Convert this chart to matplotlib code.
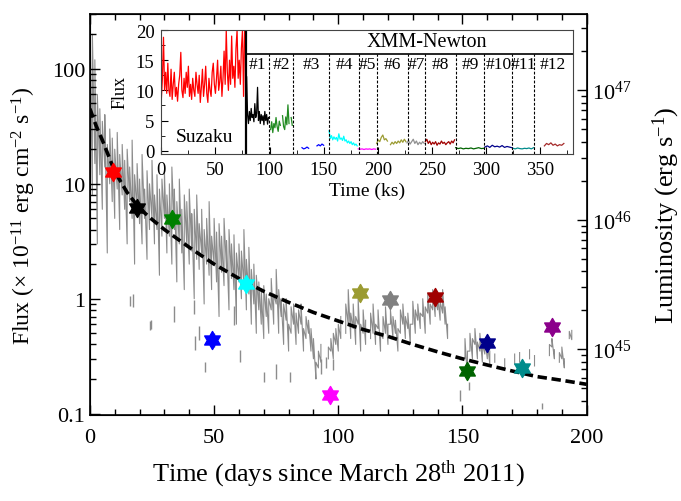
import numpy as np
import matplotlib
matplotlib.use('Agg')
import matplotlib.pyplot as plt
from matplotlib.path import Path
from matplotlib.ticker import MultipleLocator, LogLocator, NullFormatter

plt.rcParams['font.family'] = 'Liberation Serif'
plt.rcParams['mathtext.fontset'] = 'custom'
plt.rcParams['mathtext.rm'] = 'Liberation Serif'
plt.rcParams['mathtext.it'] = 'Liberation Serif:italic'
plt.rcParams['mathtext.bf'] = 'Liberation Serif:bold'

# ---- main panel: daily light curve (low / high value per day, None = no data)
lc_day = np.arange(0, 196)
lc_lo = [30, 8, 15, 3, 12, 6, 14, 2.5, 10, 7,
         5, 9, 4, 8, 6, 3, 7, 5, 2, 6,
         4.5, 3, 5, 2.2, 4, 5, 3, 4, 1.6, 3.5,
         5, 2.5, 3.5, 2, 4, 1.4, 3, 2.5, 1.2, 3,
         2, 2.6, 1, 2.2, 1.8, 2.5, 0.9, 2, 1.6, 1.2,
         2, 1.4, 0.7, 1.7, 1.3, 1.8, 0.8, 1.5, 1.2, 0.6,
         1.4, 1.0, 1.3, 0.8, 1.1, 0.6, 0.9, 0.5, 0.8, 0.6,
         0.45, 0.7, 0.5, 0.8, 0.6, 0.9, 0.5, 0.7, 0.4, 0.65,
         0.35, 0.5, 0.6, 0.4, 0.5, 0.6, 0.35, 0.45, 0.5, 0.35,
         0.3, 0.2, 0.25, 0.28, None, None, 0.3, 0.35, 0.3, 0.4,
         0.35, 0.45, None, 0.5, 0.6, 0.45, 0.55, 0.4, 0.6, 0.35,
         0.5, 0.4, None, 0.45, 0.5, 0.4, 0.55, 0.35, 0.45, 0.5,
         0.4, 0.6, 0.45, 0.5, 0.35, 0.5, 0.6, 0.45, 0.55, 0.4,
         0.6, 0.5, 0.65, 0.55, 0.7, 0.5, 0.75, 0.6, 0.8, 0.7,
         0.8, 0.65, 0.75, 0.6, 0.45, None, None, None, None, None,
         None, 0.3, 0.2, 0.35, 0.3, 0.4, 0.3, 0.35, 0.28, 0.33,
         0.3, 0.27, None, 0.28, None, None, None, 0.25, None, None,
         None, 0.27, None, 0.28, None, None, None, 0.3, None, 0.26,
         None, None, None, None, None, 0.32, 0.38, 0.3, None, 0.28,
         0.3, 0.25, None, 0.45, 0.44, None]
lc_hi = [300, 200, 120, 60, 45, 35, 40, 22, 30, 25,
         20, 28, 18, 22, 16, 20, 14, 24, 12, 15,
         11, 18, 9, 13, 10, 16, 8, 12, 9, 11,
         13, 8, 10, 14, 9, 7, 11, 6, 8, 7,
         9, 5.5, 6, 8, 4.5, 6, 4, 5, 7, 3.5,
         5, 3.8, 4.5, 3.5, 5, 3.2, 4, 3, 3.6, 2.5,
         3, 2.6, 4, 2.2, 2.8, 1.8, 2, 1.6, 1.4, 1.2,
         1.3, 1.1, 1.0, 1.5, 1.1, 1.8, 1.2, 1.0, 0.9, 1.0,
         0.6, 0.85, 0.9, 0.75, 0.8, 0.9, 0.55, 0.7, 0.65, 0.55,
         0.45, 0.28, 0.35, 0.4, None, None, 0.38, 0.45, 0.5, 0.55,
         0.6, 0.7, None, 0.9, 1.2, 0.75, 0.9, 0.7, 1.0, 0.6,
         0.8, 0.65, None, 0.75, 0.9, 0.6, 0.8, 0.5, 0.7, 0.85,
         0.6, 0.8, 0.7, 0.65, 0.55, 0.8, 0.9, 0.7, 0.75, 0.6,
         0.95, 0.8, 0.9, 0.75, 1.0, 0.85, 1.1, 0.9, 1.2, 1.0,
         1.1, 0.95, 1.2, 0.85, 0.6, None, None, None, None, None,
         None, 0.45, 0.35, 0.5, 0.45, 0.55, 0.42, 0.5, 0.4, 0.45,
         0.42, 0.35, None, 0.33, None, None, None, 0.3, None, None,
         None, 0.33, None, 0.34, None, None, None, 0.36, None, 0.32,
         None, None, None, None, None, 0.4, 0.45, 0.36, None, 0.34,
         0.38, 0.3, None, 0.52, 0.53, None]

# isolated low points below the main band
dip_day = [16, 17.5, 24, 24.5, 34, 42, 42.5, 44, 46.5, 50, 58, 60.5, 70, 75,
           80.5, 93, 95, 98, 149, 152.5, 182]
dip_lo = [0.87, 0.85, 0.53, 0.55, 0.63, 0.74, 0.36, 0.44, 0.23, 0.38, 0.59,
          0.28, 0.19, 0.2, 0.19, 0.22, 0.25, 0.24, 0.13, 0.16, 0.11]
dip_hi = [1.05, 1.1, 0.64, 0.65, 0.86, 0.97, 0.47, 0.58, 0.28, 0.5, 0.86,
          0.36, 0.23, 0.27, 0.23, 0.3, 0.31, 0.3, 0.16, 0.19, 0.125]

# decay model curve
model_day = [0, 2.5, 5, 10, 15, 20, 25, 30, 40, 50, 60, 70, 80, 90, 100,
             110, 120, 130, 140, 150, 160, 170, 180, 190, 200]
model_flux = [45, 32, 24, 12.8, 8.4, 6.1, 4.9, 4.0, 2.8, 2.0, 1.5, 1.16, 0.93,
              0.76, 0.64, 0.54, 0.47, 0.40, 0.345, 0.30, 0.265, 0.235, 0.21,
              0.195, 0.18]

# star points (one per pointed observation)
star_day = [9.4, 18.8, 32.9, 49.1, 62.9, 96.8, 108.9, 121.0, 139.1, 151.9, 160.0, 174.0, 186.2]
star_flux = [12.7, 6.1, 4.9, 0.44, 1.33, 0.144, 1.13, 0.97, 1.03, 0.234, 0.41, 0.25, 0.57]
star_colors = ['#ff0000', '#000000', '#008000', '#0000ff', '#00ffff', '#ff00ff',
               '#9b9b32', '#808080', '#a00000', '#006400', '#00008b', '#008b8b', '#8b008b']

# ---- inset: Suzaku + XMM-Newton light curves
suzaku_t = np.arange(0, 78)
suzaku_f = [8.5, 12, 18.8, 10, 13, 9.5, 14.5, 10, 9, 13.5,
            8.5, 11, 13, 9, 10.5, 8.2, 11, 12.5, 16.3, 10,
            8.8, 12, 9.5, 13, 10.5, 14, 9, 11, 8.5, 12,
            10, 9, 13, 11, 9.5, 12.5, 8, 10.5, 13.5, 9,
            11, 14, 9.5, 8, 12, 10, 9, 13, 14.5, 11,
            9.5, 12, 15, 10, 11.5, 14, 9, 12, 16.5, 11,
            20, 13, 10, 15, 11, 19, 12, 14, 10.5, 17,
            20, 12, 15, 11, 17, 20, 9, 20]

seg_start = [78, 101, 130, 155, 182, 199, 227, 244, 272, 299, 325, 354]
seg_end = [99, 121, 150, 181, 198, 226, 243, 271, 298, 324, 344, 372]
seg_flux = [
    [5, 12.3, 6, 4.5, 6.5, 5, 7, 5.5, 6, 4.8, 7.8, 5.5, 6.2, 10.5, 5, 6.5,
     4.5, 6, 5, 5.8, 4.3, 6.5, 5, 6, 4.4, 5.5],
    [3.5, 4.8, 3, 4.5, 3.8, 5.5, 4, 3.2, 4.9, 4.2, None, 5.8, 4, 3.5, 5.6,
     4.3, 7.6, 4.5, None, 5.5, 4.2],
    [0.5, 0.3, 0.4, 0.6, 0.4, None, None, None, None, 0.8, 1.0, 0.8, 1.1, 0.9],
    [3.3, 2.0, 2.5, 1.8, 2.3, 1.9, 2.2, 1.6, 2.8, 1.9, 2.1, 1.7, 2.4, 1.6,
     1.8, 1.3, 1.6, 1.2, 1.5, 1.0, 1.3, 0.9, 1.1, 0.8],
    [0.3, 0.25, 0.3, 0.2, 0.3, 0.25, 0.3, 0.2, 0.3, 0.25],
    [1.2, 1.8, 1.5, 2.2, 2.6, 1.8, 2.0, 1.6, None, 1.0, 1.4, 1.1, 1.5, 1.2,
     1.6, 1.3, 1.8, 1.4, 1.9, 1.5],
    [1.3, 1.7, 1.1, 1.5, 1.9, 1.2, 1.6, 1.0, 1.4, 1.1, 1.5, 1.2],
    [1.5, 1.9, 1.2, 1.6, 1.0, 1.4, 1.1, 1.5, 0.9, 1.3, 1.1, 1.6, 1.2, 1.4,
     1.0, 1.3, 1.5, 1.1, 1.6, 1.3, 1.8],
    [0.5, 0.35, 0.45, 0.3, 0.4, 0.35, 0.45, 0.3, 0.4, 0.5, 0.35, 0.4],
    [0.6, 0.8, 0.55, 0.9, 0.65, 0.75, 0.6, 0.85, 0.55, 0.7, 0.6, 0.5],
    [0.4, 0.3, 0.45, 0.35, 0.3, 0.4, 0.35, 0.45, 0.3, 0.5],
    [0.8, 1.2, 1.0, 1.3, 0.9, 1.1, 0.8, 1.0, 0.9, 1.2],
]
seg_colors = ['#000000', '#228b22', '#0000ff', '#00ffff', '#ff00ff', '#9b9b32',
              '#909090', '#a00000', '#006400', '#00008b', '#008b8b', '#a52a2a']
seg_edges = [78, 99.5, 121.7, 155, 182.6, 199, 228.3, 244, 272.5, 298.4, 324.4, 344.5, 380]
seg_names = ['#1', '#2', '#3', '#4', '#5', '#6', '#7', '#8', '#9', '#10', '#11', '#12']


def as_float(vals):
    return np.array([np.nan if v is None else v for v in vals], float)


# six-pointed star marker
hexagram = Path.unit_regular_star(6, 0.577)

fig = plt.figure(figsize=(6.81, 5.02), dpi=100)
ax = fig.add_axes([0.132, 0.171, 0.7295, 0.799])

# gray light curve: zigzag through the low and high value of each day
zz_x = np.repeat(lc_day, 2)
zz_y = np.column_stack([as_float(lc_lo), as_float(lc_hi)]).ravel()
ax.plot(zz_x, zz_y, color='#8c8c8c', lw=0.8, zorder=1)
ax.vlines(dip_day, dip_lo, dip_hi, color='#8c8c8c', lw=1.0, zorder=1)

ax.plot(model_day, model_flux, color='k', lw=2.6, ls=(0, (2.6, 1.3)), zorder=2)

for d, f, c in zip(star_day, star_flux, star_colors):
    ax.plot(d, f, marker=hexagram, ms=13, color=c, mec=c, ls='none', zorder=3)

ax.set_yscale('log')
ax.set_xlim(0, 200)
ax.set_ylim(0.097, 300)
ax.set_yticks([0.1, 1, 10, 100])
ax.set_yticklabels(['0.1', '1', '10', '100'])
ax.yaxis.set_minor_locator(LogLocator(base=10, subs=np.arange(2, 10)))
ax.yaxis.set_minor_formatter(NullFormatter())
ax.xaxis.set_major_locator(MultipleLocator(50))
ax.xaxis.set_minor_locator(MultipleLocator(10))
ax.tick_params(which='both', direction='in', top=True, right=False, labelsize=16, width=1)
ax.tick_params(which='major', length=7)
ax.tick_params(which='minor', length=4)
ax.tick_params(axis='x', pad=9)
for sp in ax.spines.values():
    sp.set_linewidth(1.2)
ax.set_xlabel('Time (days since March 28$^{\\rm th}$ 2011)', fontsize=19, labelpad=8)
ax.set_ylabel('Flux (\u00d7 10$^{-11}$ erg cm$^{-2}$ s$^{-1}$)', fontsize=17, labelpad=10)

ax2 = ax.twinx()
ax2.set_yscale('log')
ax2.set_ylim(10 ** 44.49, 10 ** 47.587)
ax2.yaxis.set_major_locator(LogLocator(base=10, numticks=10))
ax2.yaxis.set_minor_locator(LogLocator(base=10, subs=np.arange(2, 10), numticks=10))
ax2.yaxis.set_minor_formatter(NullFormatter())
ax2.tick_params(which='both', direction='in', labelsize=16, width=1)
ax2.tick_params(which='major', length=7)
ax2.tick_params(which='minor', length=4)
ax2.set_ylabel('Luminosity (erg s$^{-1}$)', fontsize=19, labelpad=14)

# ---- inset
axi = fig.add_axes([0.2369, 0.6918, 0.6038, 0.2464])
axi.set_facecolor('white')
axi.plot(suzaku_t, suzaku_f, color='#ff0000', lw=0.9)
for s0, s1, fl, c in zip(seg_start, seg_end, seg_flux, seg_colors):
    axi.plot(np.linspace(s0, s1, len(fl)), as_float(fl), color=c, lw=0.9)

axi.set_xlim(0, 380)
axi.set_ylim(-0.5, 20)
axi.axvline(seg_edges[0], color='k', lw=1.6)
axi.hlines(16.1, seg_edges[0], 380, color='k', lw=1.2)
for e in seg_edges[1:-1]:
    axi.vlines(e, -0.5, 16.1, color='k', lw=0.8, linestyles=(0, (2.5, 1.5)))
for i, name in enumerate(seg_names):
    axi.text((seg_edges[i] + seg_edges[i + 1]) / 2, 14.3, name, ha='center', va='center', fontsize=12.5)
axi.text(245, 18.05, 'XMM-Newton', ha='center', va='center', fontsize=14.5)
axi.text(40, 2.4, 'Suzaku', ha='center', va='center', fontsize=14)

axi.xaxis.set_major_locator(MultipleLocator(50))
axi.xaxis.set_minor_locator(MultipleLocator(25))
axi.yaxis.set_major_locator(MultipleLocator(5))
axi.yaxis.set_minor_locator(MultipleLocator(2.5))
axi.tick_params(which='both', direction='in', labelsize=13.5, top=False, right=False, pad=5)
axi.tick_params(which='major', length=5)
axi.tick_params(which='minor', length=3)
for sp in axi.spines.values():
    sp.set_color('#444444')
axi.set_xlabel('Time (ks)', fontsize=14, labelpad=3)
axi.set_ylabel('Flux', fontsize=13, labelpad=5)

fig.savefig('out.png', dpi=100)
